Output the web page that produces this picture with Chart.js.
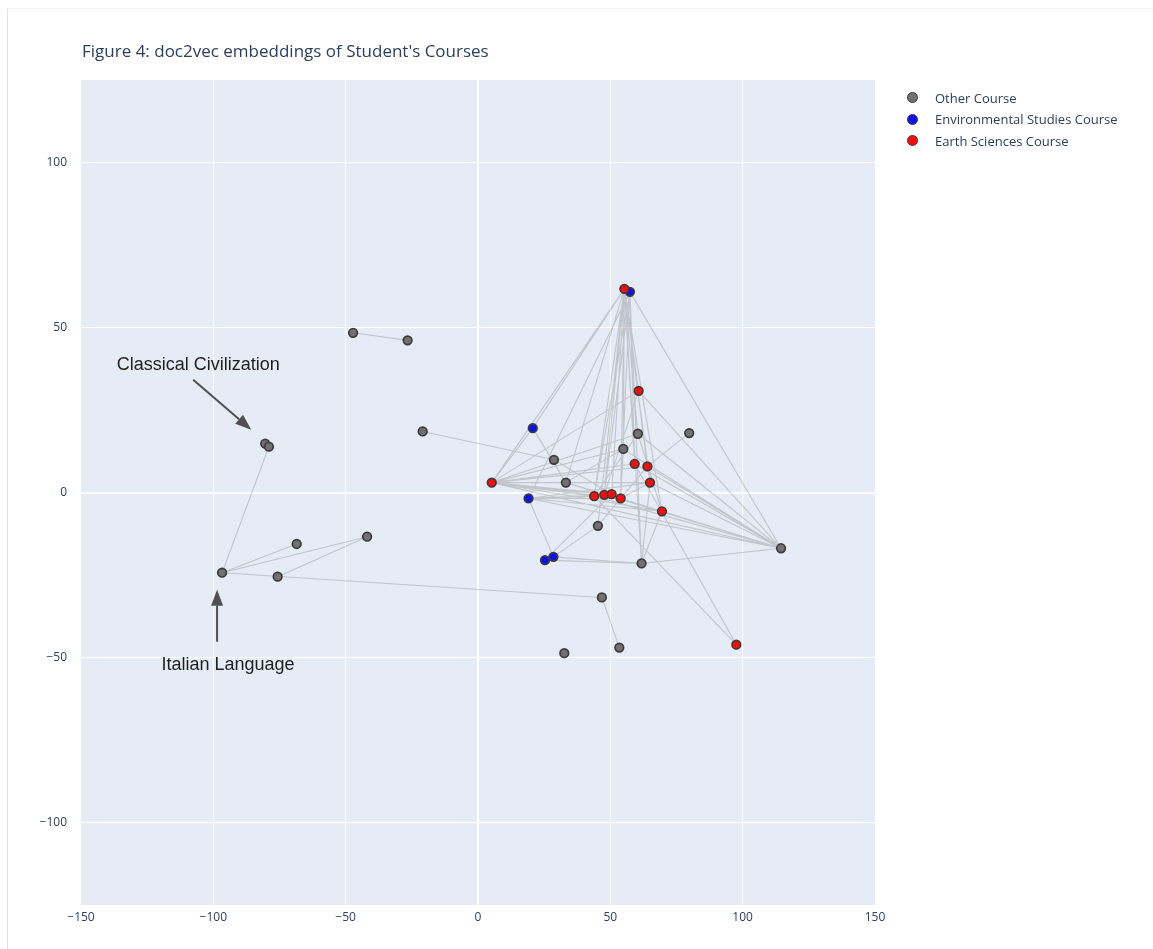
<!DOCTYPE html>
<html>
<head>
<meta charset="utf-8">
<title>doc2vec embeddings of Student's Courses</title>
<script src="https://cdn.jsdelivr.net/npm/chart.js@4.4.1/dist/chart.umd.min.js"></script>
<style>
  html, body { margin: 0; padding: 0; background: #fff; }
  #wrap { position: relative; width: 1153px; height: 949px; overflow: hidden; }
  #frame { position: absolute; left: 7px; top: 8px; width: 1146px; height: 941px;
           border-left: 1px solid #e2e2e2; border-top: 1px solid #f4f4f4; }
  #chart { position: absolute; left: 0; top: 0; }
  #title { position: absolute; left: 82px; top: 39px; font: 17px "Open Sans", sans-serif;
           color: #2a3f5f; white-space: nowrap; }
  #legend { position: absolute; left: 907px; top: 87px; font: 13px "Open Sans", sans-serif; color: #2a3f5f; }
  #legend .item { height: 21.5px; display: flex; align-items: center; white-space: nowrap; }
  #legend .dot { width: 9px; height: 9px; border-radius: 50%; border: 1.5px solid #3d3d3d; margin-right: 17px; }
</style>
</head>
<body>
<div id="wrap">
  <div id="frame"></div>
  <canvas id="chart" width="1153" height="949"></canvas>
  <div id="title">Figure 4: doc2vec embeddings of Student's Courses</div>
  <div id="legend"></div>
</div>
<script>
// Course embeddings projected to 2-D
const otherX = [-47.2, -26.6, -20.9, -80.4, -79.0, -96.7, -68.5, -41.9, -75.7, 28.7,
                 33.2,  60.4,  54.9,  79.8,  45.3,  61.8,  46.8,  32.6,  53.4, 114.5];
const otherY = [ 48.4,  46.1,  18.5,  14.8,  13.9, -24.3, -15.6, -13.4, -25.5,   9.9,
                  3.0,  17.8,  13.2,  18.0, -10.1, -21.5, -31.8, -48.7, -47.0, -16.9];

const envX = [57.4, 20.7, 19.1, 25.3, 28.5];
const envY = [60.8, 19.5, -1.8, -20.5, -19.5];

const earthX = [55.3, 60.7, 59.2, 64.0, 5.2, 65.0, 43.9, 47.7, 50.5, 53.9, 69.5, 97.6];
const earthY = [61.7, 30.8,  8.7,  7.9, 3.0,  3.0, -1.1, -0.7, -0.5, -1.8, -5.7, -46.1];

const seriesNames = ['Other Course', 'Environmental Studies Course', 'Earth Sciences Course'];

// Links between courses taken by the same student (o = other, e = environmental, s = earth sciences)
const links = [
  ['o0','o1'], ['o2','o9'], ['o4','o5'], ['o5','o6'], ['o5','o7'], ['o8','o7'], ['o5','o16'], ['o16','o18'],
  ['s0','s4'], ['s0','e1'], ['s0','s1'], ['s0','o11'], ['s0','o12'], ['s0','s2'], ['s0','s3'], ['s0','s5'],
  ['s0','s6'], ['s0','s7'], ['s0','s8'], ['s0','s9'], ['s0','o14'], ['s0','o15'], ['s0','s10'], ['s0','o10'],
  ['e0','o19'], ['e0','s6'], ['e0','s9'], ['e0','o15'], ['e0','e2'], ['e0','s7'], ['e0','s2'],
  ['s4','o10'], ['s4','s6'], ['s4','s7'], ['s4','s8'], ['s4','s9'], ['s4','s5'], ['s4','s3'], ['s4','s1'],
  ['s4','o11'], ['s4','o12'], ['s4','s10'], ['s4','o19'], ['s4','e1'], ['s4','s2'],
  ['e2','s6'], ['e2','s7'], ['e2','s9'], ['e2','e4'], ['e2','o19'], ['e2','s10'], ['e2','s5'],
  ['e3','o15'], ['e4','o15'], ['e3','s8'], ['e4','o14'],
  ['o15','o19'], ['o15','s5'], ['o15','s10'],
  ['o19','o11'], ['o19','o10'], ['o19','s3'], ['o19','s2'], ['o19','s5'], ['o19','s10'], ['o19','o12'],
  ['o19','s6'], ['o19','s9'],
  ['o13','s3'], ['s1','o19'], ['e1','o10'], ['o12','s9'], ['o11','s6'], ['s2','s11'], ['s6','s11'],
  ['o9','s8'], ['o14','s3'], ['o12','o10'], ['s1','s7'], ['s5','s9'], ['o11','s10'], ['s3','s10'],
  ['o10','s10']
];

const xTicks = [-150, -100, -50, 0, 50, 100, 150];
const yTicks = [-100, -50, 0, 50, 100];

// ---------------------------------------------------------------------------
const zip = (xs, ys) => xs.map((x, i) => ({ x, y: ys[i] }));
const groups = { o: zip(otherX, otherY), e: zip(envX, envY), s: zip(earthX, earthY) };
const nodeOf = key => groups[key[0]][+key.slice(1)];

const linkPoints = [];
links.forEach(([a, b]) => {
  const p = nodeOf(a), q = nodeOf(b);
  linkPoints.push({ x: p.x, y: p.y }, { x: q.x, y: q.y }, { x: null, y: null });
});

const colors = { o: '#717171', e: '#0a12f0', s: '#ff0a0a' };
const markerBorder = '#3b3b3b';

function markerSet(label, data, fill) {
  return {
    label, data, showLine: false,
    backgroundColor: fill, borderColor: markerBorder,
    pointRadius: 4.3, borderWidth: 1.7, pointHoverRadius: 4.3
  };
}

const fmt = v => (v < 0 ? '\u2212' + Math.abs(v) : String(v));
const tickFont = { family: '"Open Sans", sans-serif', size: 12 };

const plotBg = {
  id: 'plotBg',
  beforeDraw(chart) {
    const { ctx, chartArea: a } = chart;
    ctx.save();
    ctx.fillStyle = '#E5ECF6';
    ctx.fillRect(a.left, a.top, a.right - a.left, a.bottom - a.top);
    ctx.restore();
  }
};

// Arrow callouts attached to individual courses
const callouts = [
  { text: 'Classical Civilization', node: 'o3', tip: [-14, -14], tail: [-72, -64], label: [-67, -79] },
  { text: 'Italian Language', node: 'o5', tip: [-5, 17], tail: [-5, 69], label: [6, 92] }
];

const calloutPlugin = {
  id: 'callouts',
  afterDatasetsDraw(chart) {
    const { ctx, scales } = chart;
    ctx.save();
    callouts.forEach(c => {
      const n = nodeOf(c.node);
      const px = scales.x.getPixelForValue(n.x), py = scales.y.getPixelForValue(n.y);
      const tx = px + c.tip[0], ty = py + c.tip[1];
      const sx = px + c.tail[0], sy = py + c.tail[1];
      const ang = Math.atan2(ty - sy, tx - sx);
      const headLen = 16, headHalf = 6;
      const bx = tx - headLen * Math.cos(ang), by = ty - headLen * Math.sin(ang);
      ctx.strokeStyle = '#505050';
      ctx.fillStyle = '#505050';
      ctx.lineWidth = 2;
      ctx.beginPath();
      ctx.moveTo(sx, sy);
      ctx.lineTo(bx, by);
      ctx.stroke();
      ctx.beginPath();
      ctx.moveTo(tx, ty);
      ctx.lineTo(bx + headHalf * Math.sin(ang), by - headHalf * Math.cos(ang));
      ctx.lineTo(bx - headHalf * Math.sin(ang), by + headHalf * Math.cos(ang));
      ctx.closePath();
      ctx.fill();
      ctx.font = '18px "Liberation Sans", Arial, sans-serif';
      ctx.fillStyle = '#1f1f1f';
      ctx.textAlign = 'center';
      ctx.textBaseline = 'middle';
      ctx.fillText(c.text, px + c.label[0], py + c.label[1]);
    });
    ctx.restore();
  }
};

function gridFor(edgeValues) {
  return {
    drawTicks: false,
    color: c => (c.tick && edgeValues.includes(c.tick.value) ? 'rgba(0,0,0,0)' : '#ffffff'),
    lineWidth: c => (c.tick && c.tick.value === 0 ? 2 : 1)
  };
}

new Chart(document.getElementById('chart'), {
  type: 'scatter',
  data: {
    datasets: [
      markerSet(seriesNames[2], groups.s, colors.s),
      markerSet(seriesNames[1], groups.e, colors.e),
      markerSet(seriesNames[0], groups.o, colors.o),
      {
        label: 'links', data: linkPoints, showLine: true, spanGaps: false,
        borderColor: 'rgba(150,150,150,0.45)', borderWidth: 1.1,
        pointRadius: 0, pointHoverRadius: 0
      }
    ]
  },
  options: {
    responsive: false,
    animation: false,
    devicePixelRatio: 1,
    events: [],
    layout: { padding: { left: 0, right: 278, top: 80, bottom: 0 } },
    plugins: { legend: { display: false }, title: { display: false }, tooltip: { enabled: false } },
    scales: {
      x: {
        type: 'linear', min: -150, max: 150,
        afterBuildTicks: s => { s.ticks = xTicks.map(v => ({ value: v })); },
        afterFit: s => { s.height = 44; },
        ticks: { autoSkip: false, maxRotation: 0, padding: 5, font: tickFont, color: '#2a3f5f', callback: fmt },
        grid: gridFor([-150, 150]),
        border: { display: false }
      },
      y: {
        type: 'linear', min: -125, max: 125,
        afterBuildTicks: s => { s.ticks = yTicks.map(v => ({ value: v })); },
        afterFit: s => { s.width = 81; },
        ticks: { autoSkip: false, padding: 14, font: tickFont, color: '#2a3f5f', callback: fmt },
        grid: gridFor([]),
        border: { display: false }
      }
    }
  },
  plugins: [plotBg, calloutPlugin]
});

// Legend
const legend = document.getElementById('legend');
[['o', 0], ['e', 1], ['s', 2]].forEach(([k, i]) => {
  const item = document.createElement('div');
  item.className = 'item';
  const dot = document.createElement('span');
  dot.className = 'dot';
  dot.style.background = colors[k];
  const txt = document.createElement('span');
  txt.textContent = seriesNames[i];
  item.appendChild(dot);
  item.appendChild(txt);
  legend.appendChild(item);
});
</script>
</body>
</html>
